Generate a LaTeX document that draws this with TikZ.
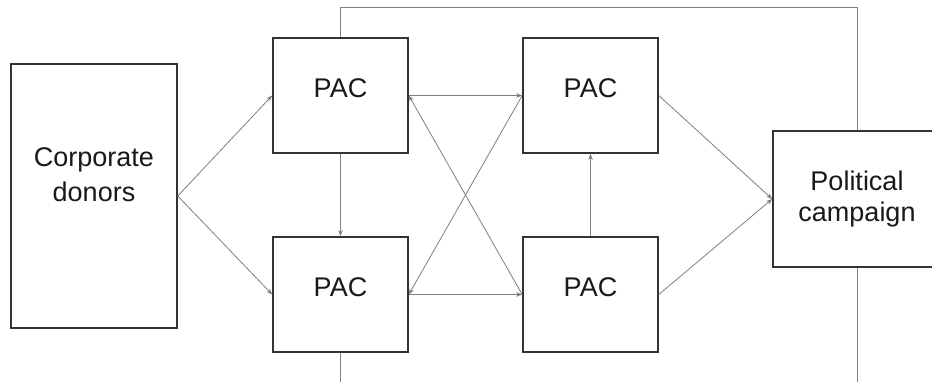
\documentclass[tikz,border=0pt]{standalone}
\usepackage{fontspec}
\setmainfont{Liberation Sans}
\usetikzlibrary{arrows.meta}
\definecolor{boxline}{HTML}{333333}
\definecolor{conn}{HTML}{7F7F7F}
\tikzset{
  box/.style={draw=boxline, line width=1.6pt, fill=white, inner sep=0pt},
  txt/.style={align=center, inner sep=0pt, text=black!90},
  pac/.style={box, minimum width=135pt, minimum height=115pt,
    label={[txt, font=\fontsize{27}{31}\selectfont, yshift=7.5pt]center:PAC}},
  link/.style={draw=conn, line width=0.8pt},
  flow/.style={link, -{Stealth[length=6pt,width=4.5pt]}}
}
\begin{document}
\begin{tikzpicture}[x=1pt,y=-1pt]
\useasboundingbox (0,0) rectangle (932,381);
\clip (0,0) rectangle (932,381);
\fill[white] (0,0) rectangle (932,381);

\coordinate (tr) at (857,7);
\coordinate (bl) at (340.5,395);
\coordinate (br) at (857,395);

% loop lines behind the boxes
\draw[link] (340.5,95.5) |- (tr) -- (857,199);
\draw[link] (340.5,294.5) -- (bl);
\draw[link] (857,199) -- (br);

\node[box, minimum width=166pt, minimum height=264pt,
  label={[txt, font=\fontsize{27}{35}\selectfont, yshift=21pt]center:Corporate\\donors}] (don) at (94,196) {};
\node[pac] (p1) at (340.5,95.5) {};
\node[pac] (p2) at (340.5,294.5) {};
\node[pac] (p3) at (590.5,95.5) {};
\node[pac] (p4) at (590.5,294.5) {};
\node[box, minimum width=168pt, minimum height=136pt,
  label={[txt, font=\fontsize{27}{31}\selectfont]center:Political\\campaign}] (pol) at (857,199) {};

\draw[flow] (don.east) -- (p1.west);
\draw[flow] (don.east) -- (p2.west);
\draw[flow] (p1.south) -- (p2.north);
\draw[flow] (p4.north) -- (p3.south);
\draw[flow] (p1.east) -- (p3.west);
\draw[flow] (p2.east) -- (p4.west);
\draw[flow] (p4.west) -- (p1.east);
\draw[flow] (p3.west) -- (p2.east);
\draw[flow] (p3.east) -- (pol.west);
\draw[flow] (p4.east) -- (pol.west);
\end{tikzpicture}
\end{document}
